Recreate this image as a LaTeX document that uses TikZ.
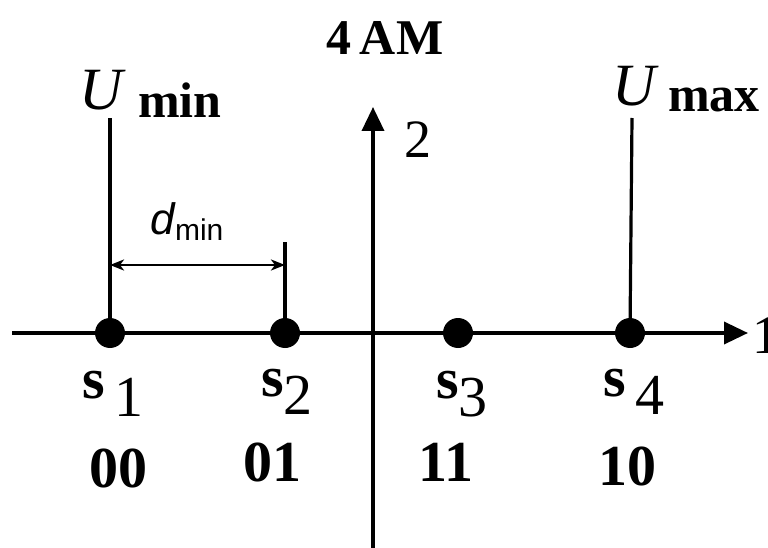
\documentclass[tikz,border=0pt]{standalone}
\usepackage{fontspec}
\setmainfont{Liberation Serif}
\newfontfamily\arialfont{Liberation Sans}
\usetikzlibrary{arrows.meta}

\begin{document}
\begin{tikzpicture}[
                x=1pt,y=-1pt,
                axis/.style={line width=3.6pt,-{Triangle[length=24pt,width=22pt]}},
                guide/.style={line width=3.2pt},
                point/.style={circle,fill=black,inner sep=0pt,minimum size=30pt},
                txt/.style={inner sep=0pt,font=\fontsize{54}{56}\selectfont},
                btxt/.style={txt,font=\fontsize{50}{52}\selectfont\bfseries},
                ctxt/.style={txt,font=\fontsize{58}{60}\selectfont\bfseries},
                dimline/.style={line width=2.6pt,{Stealth[length=14pt,width=11pt,inset=4pt]}-{Stealth[length=14pt,width=11pt,inset=4pt]}}
            ]
            \useasboundingbox (0,0) rectangle (768,548);

            % axes
            \coordinate (xstart) at (12,333);
            \coordinate (xend) at (748,333);
            \coordinate (ystart) at (373,548);
            \coordinate (yend) at (373,107);
            \draw[axis] (xstart) -- (xend);
            \draw[axis] (ystart) -- (yend);

            \node[txt,anchor=west] (xlab) at (752,336) {1};
            \node[txt] (ylab) at (418,140) {2};
            \node[btxt] (title) at (385,38) {4\,AM};

            % signal points
            \node[point] (s1) at (110,333) {};
            \node[point] (s2) at (285,333) {};
            \node[point] (s3) at (458,333) {};
            \node[point] (s4) at (630,333) {};

            % bounds
            \coordinate (umin) at (110,118);
            \coordinate (umax) at (632,118);
            \coordinate (dtop) at (285,242);
            \draw[guide] (s1.center) -- (umin);
            \draw[guide] (s4.center) -- (umax);
            \draw[guide] (s2.center) -- (dtop);

            \node[txt,font=\fontsize{60}{62}\selectfont\itshape] (uminU) at (101,90) {U};
            \node[btxt] (uminT) at (180,100) {min};
            \node[txt,font=\fontsize{60}{62}\selectfont\itshape] (umaxU) at (634,86) {U};
            \node[btxt] (umaxT) at (714,100) {max};

            % minimum distance
            \coordinate (dleft) at (110,265);
            \coordinate (dright) at (285,265);
            \draw[dimline] (dleft) -- (dright);
            \node[inner sep=0pt] (dlab) at (187,222) {\arialfont\fontsize{44}{46}\selectfont\itshape d\upshape\fontsize{30}{32}\selectfont\raisebox{-6pt}{min}};

            % labels and codes
            \node[ctxt,anchor=base] (ls1) at (113,398) {s\,\raisebox{-18pt}{\mdseries 1}};
            \node[ctxt,anchor=base] (ls2) at (287,396) {s\raisebox{-18pt}{\mdseries 2}};
            \node[ctxt,anchor=base] (ls3) at (462,398) {s\raisebox{-18pt}{\mdseries 3}};
            \node[ctxt,anchor=base] (ls4) at (634,396) {s\,\raisebox{-18pt}{\mdseries 4}};

            \node[ctxt] (c1) at (118,468) {00};
            \node[ctxt] (c2) at (272,462) {01};
            \node[ctxt] (c3) at (446,462) {11};
            \node[ctxt] (c4) at (627,466) {10};
        \end{tikzpicture}
\end{document}
